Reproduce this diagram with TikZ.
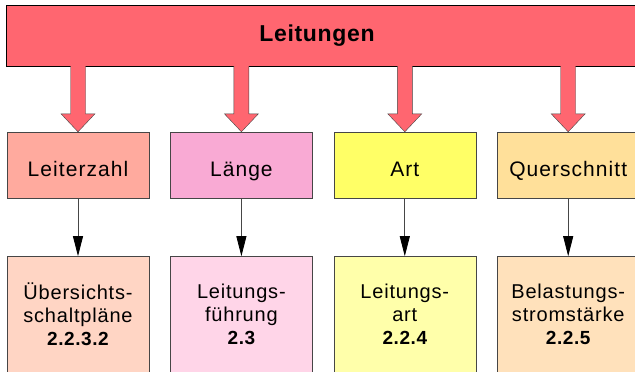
\documentclass[tikz,border=0pt]{standalone}
\usepackage{fontspec}
\setmainfont{Liberation Sans}
\newfontfamily\boxfont[LetterSpace=5]{Liberation Sans}
\newfontfamily\lowfont[LetterSpace=4]{Liberation Sans}
\newfontfamily\barfont[LetterSpace=3]{Liberation Sans}
\newcommand\secno[1]{{\fontsize{19}{23}\selectfont\barfont\bfseries #1}}
\usetikzlibrary{arrows.meta,positioning}
\definecolor{barred}{RGB}{255,102,112}
\definecolor{rimgray}{RGB}{70,70,70}
\definecolor{leiterfill}{RGB}{255,170,158}
\definecolor{laengefill}{RGB}{249,170,212}
\definecolor{artfill}{RGB}{255,255,102}
\definecolor{querfill}{RGB}{255,224,154}
\definecolor{plaenefill}{RGB}{255,213,196}
\definecolor{fuehrfill}{RGB}{255,213,232}
\definecolor{leitartfill}{RGB}{255,255,170}
\definecolor{stromfill}{RGB}{255,225,187}
\tikzset{
    %Define standard arrow tip
    >={Triangle[length=20pt,width=10pt,color=black]},
    %Define style for the top bar
    bar/.style={
           rectangle,
           draw=black,
           fill=barred,
           minimum width=634pt,
           minimum height=61pt,
           font=\barfont\bfseries\fontsize{23}{27}\selectfont},
    %Define style for boxes
    midbox/.style={
           rectangle,
           draw=rimgray,
           minimum width=142pt,
           minimum height=66pt,
           text height=22pt,
           text depth=0pt,
           font=\boxfont\fontsize{21}{25}\selectfont},
    lowbox/.style={
           rectangle,
           draw=rimgray,
           minimum width=142pt,
           minimum height=116pt,
           align=center,
           font=\lowfont\fontsize{20}{23}\selectfont},
    % Define arrow styles
    blockarrow/.style={
           fill=barred,
           draw=rimgray},
    arrow/.style={
           ->,
           draw=rimgray,
           line width=0.8pt},
}
\begin{document}
\begin{tikzpicture}
\clip (0,0) rectangle (635pt,-372pt);
\node[bar] at (323pt,-35.5pt) (bar) {\hspace*{-12pt}Leitungen};
\node[midbox, fill=leiterfill] at (78pt,-165pt)         (leiterzahl) {Leiterzahl};
\node[midbox, fill=laengefill, right=21pt of leiterzahl] (laenge)     {Länge};
\node[midbox, fill=artfill, right=21pt of laenge]        (art)        {Art};
\node[midbox, fill=querfill, right=21pt of art]          (querschnitt){Querschnitt};
\node[lowbox, fill=plaenefill, below=58pt of leiterzahl] (plaene)     {Übersichts-\\schaltpläne\\\secno{2.2.3.2}};
\node[lowbox, fill=fuehrfill, below=58pt of laenge]      (fuehrung)   {Leitungs-\\führung\\\secno{2.3}};
\node[lowbox, fill=leitartfill, below=58pt of art]       (leitart)    {Leitungs-\\art\\\secno{2.2.4}};
\node[lowbox, fill=stromfill, below=58pt of querschnitt] (strom)      {Belastungs-\\stromstärke\\\secno{2.2.5}};
\foreach \n in {leiterzahl,laenge,art,querschnitt}
  \filldraw[blockarrow] ([xshift=-7.5pt]bar.south -| \n.north)
     -- ([xshift=-7.5pt,yshift=18pt]\n.north) -- ([xshift=-17pt,yshift=18pt]\n.north) -- (\n.north)
     -- ([xshift=17pt,yshift=18pt]\n.north) -- ([xshift=7.5pt,yshift=18pt]\n.north)
     -- ([xshift=7.5pt]bar.south -| \n.north);
\foreach \a/\b in {leiterzahl/plaene,laenge/fuehrung,art/leitart,querschnitt/strom}
  \draw[arrow] (\a) -- (\b);
\end{tikzpicture}
\end{document}
